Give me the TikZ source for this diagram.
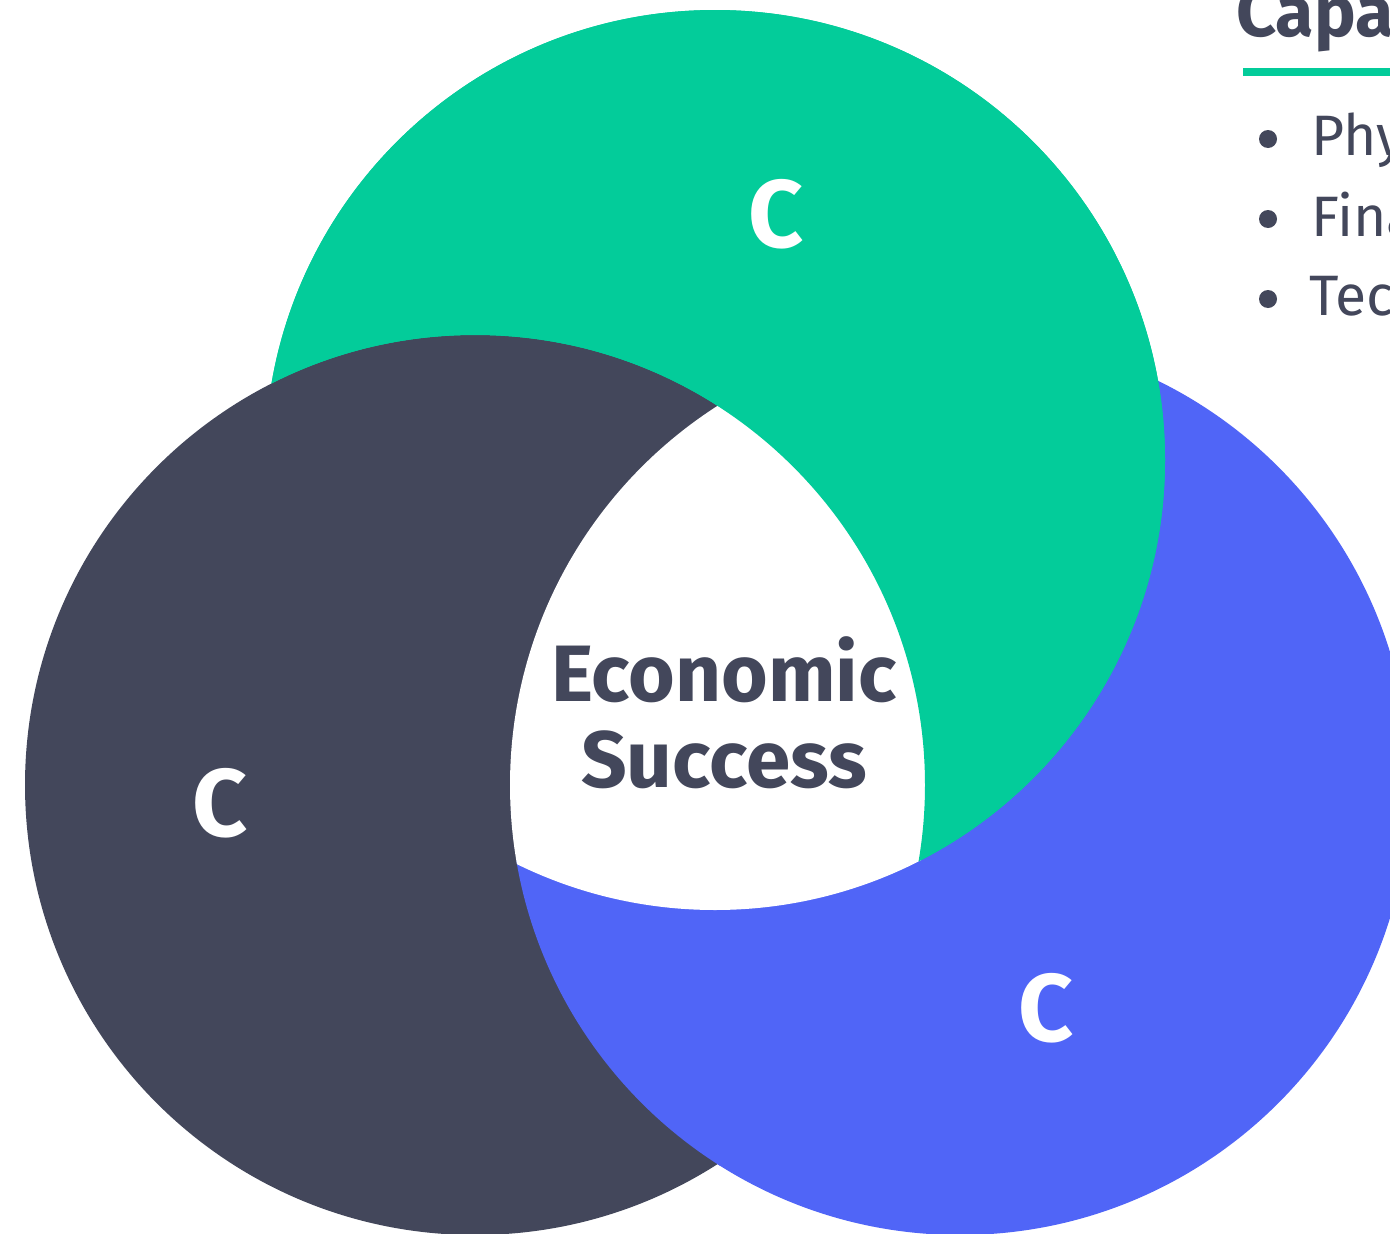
\documentclass[tikz,border=0pt]{standalone}
\usepackage{fontspec}
\setmainfont{Fira Sans}
\definecolor{cgreen}{HTML}{03CC9A}
\definecolor{cdark}{HTML}{43475B}
\definecolor{cblue}{HTML}{5065F7}
\begin{document}
\begin{tikzpicture}[x=1pt,y=-1pt,
  bigC/.style={text=white,font=\fontsize{96}{96}\selectfont\bfseries,inner sep=0pt},
  centerlabel/.style={text=cdark,font=\fontsize{80}{86}\selectfont\bfseries,align=center,inner sep=0pt},
  heading/.style={text=cdark,font=\fontsize{70}{70}\selectfont\bfseries,anchor=base west,inner sep=0pt},
  item/.style={text=cdark,font=\fontsize{57}{57}\selectfont,anchor=base west,inner sep=0pt},
  bulletdot/.style={fill=cdark}]
\useasboundingbox (0,0) rectangle (1390,1234);
\fill[white] (0,0) rectangle (1390,1234);
% circles: green (top), dark (left), blue (right)
\def\greenc{(715,460) circle[radius=450]}
\def\greensmall{(715,460) circle[radius=447]}
\def\darkc{(475,785) circle[radius=450]}
\def\darkbig{(475,785) circle[radius=453]}
\def\bluec{(960,785) circle[radius=450]}
\fill[cblue] \bluec;
\fill[cgreen] \greenc;
\fill[cdark] \darkc;
% blue lies over dark where they overlap
\begin{scope}[even odd rule]
  \clip (-20,-20) rectangle (1420,1260) \greensmall;
  \clip \darkbig;
  \fill[cblue] \bluec;
\end{scope}
% white centre
\begin{scope}
  \clip \darkbig;
  \clip \bluec;
  \fill[white] \greenc;
\end{scope}
% green lies over blue outside dark
\begin{scope}[even odd rule]
  \clip (-20,-20) rectangle (1420,1260) \darkc;
  \fill[cgreen] \greenc;
\end{scope}
% labels
\node[bigC] (cg) at (776,214) {C};
\node[bigC] (cd) at (220,803) {C};
\node[bigC] (cb) at (1046,1008) {C};
\node[centerlabel] (es) at (724,713) {Economic\\Success};
% side panel
\node[heading] (head) at (1236,36) {Capa};
\fill[cgreen] (1243,68) rectangle (1390,76);
\fill[bulletdot] (1268,139) circle[radius=9];
\fill[bulletdot] (1268,219) circle[radius=9];
\fill[bulletdot] (1268,299) circle[radius=9];
\node[item] (i1) at (1311,155) {Phy};
\node[item] (i2) at (1311,236) {Fina};
\node[item] (i3) at (1309,315) {Tec};
\end{tikzpicture}
\end{document}
